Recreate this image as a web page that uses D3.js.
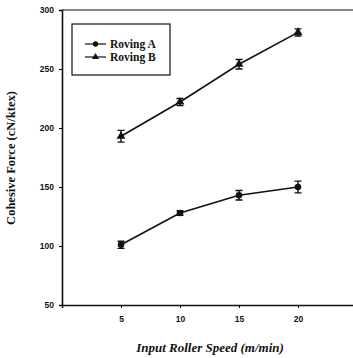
<!DOCTYPE html>
<html>
<head>
<meta charset="utf-8">
<script src="https://cdn.jsdelivr.net/npm/d3@7"></script>
<style>
  body { margin: 0; background: #fff; }
  svg { display: block; }
</style>
</head>
<body>
<div id="chart"></div>
<script>
// values
const speeds = [5, 10, 15, 20];
const rovingA = [101, 128, 143, 150];
const rovingAErr = [3, 2, 4, 5];
const rovingB = [193, 222, 254, 281];
const rovingBErr = [5, 3, 4, 3];
const yTicks = [50, 100, 150, 200, 250, 300];
const xTicks = [5, 10, 15, 20];
const seriesNames = ["Roving A", "Roving B"];

const width = 353, height = 358;
const margin = { top: 10, left: 62, bottom: 53 };

const svg = d3.select("#chart").append("svg")
  .attr("width", width)
  .attr("height", height);

const x = d3.scaleLinear().domain([0, 25]).range([margin.left, margin.left + 295]);
const y = d3.scaleLinear().domain([50, 300]).range([height - margin.bottom, margin.top]);

const serif = "'Liberation Serif', 'DejaVu Serif', serif";
const sans = "'Liberation Sans', Arial, sans-serif";

// Y axis
const yAxis = svg.append("g")
  .attr("transform", "translate(" + margin.left + ",0)")
  .call(d3.axisLeft(y).tickValues(yTicks).tickSize(3).tickPadding(5));
yAxis.select(".domain").attr("stroke", "#111").attr("stroke-width", 1.6);
yAxis.selectAll("text").attr("font-family", sans).attr("font-weight", "bold")
  .attr("font-size", 8.5).attr("fill", "#111");

// X axis
const xAxis = svg.append("g")
  .attr("transform", "translate(0," + y(50) + ")")
  .call(d3.axisBottom(x).tickValues(xTicks).tickSize(3).tickPadding(8));
xAxis.select(".domain").attr("stroke", "#111").attr("stroke-width", 1.4);
xAxis.selectAll("text").attr("font-family", sans).attr("font-weight", "bold")
  .attr("font-size", 8.5).attr("fill", "#111");

// top frame line
svg.append("line")
  .attr("x1", x(0)).attr("x2", width)
  .attr("y1", y(300)).attr("y2", y(300))
  .attr("stroke", "#111").attr("stroke-width", 1.2);

// axis titles
svg.append("text")
  .attr("transform", "translate(15," + 158 + ") rotate(-90)")
  .attr("text-anchor", "middle")
  .attr("font-family", serif).attr("font-weight", "bold")
  .attr("font-size", 12.5).attr("fill", "#111")
  .text("Cohesive Force (cN/ktex)");

svg.append("text")
  .attr("x", 210).attr("y", 352)
  .attr("text-anchor", "middle")
  .attr("font-family", serif).attr("font-weight", "bold").attr("font-style", "italic")
  .attr("font-size", 13).attr("fill", "#111")
  .text("Input Roller Speed (m/min)");

const line = d3.line().x(d => x(d[0])).y(d => y(d[1]));

function drawSeries(vals, errs, shape) {
  const pts = speeds.map((s, i) => [s, vals[i], errs[i]]);
  const g = svg.append("g");
  g.append("path").datum(pts)
    .attr("d", line).attr("fill", "none")
    .attr("stroke", "#111").attr("stroke-width", 1.6);
  // error bars
  g.selectAll(".err").data(pts).enter().append("path")
    .attr("d", d => {
      const cx = x(d[0]), y1 = y(d[1] + d[2]), y2 = y(d[1] - d[2]);
      return "M" + (cx - 3.5) + "," + y1 + "H" + (cx + 3.5) +
        "M" + cx + "," + y1 + "V" + y2 +
        "M" + (cx - 3.5) + "," + y2 + "H" + (cx + 3.5);
    })
    .attr("stroke", "#111").attr("stroke-width", 1.4).attr("fill", "none");
  g.selectAll(".mk").data(pts).enter().append("path")
    .attr("transform", d => "translate(" + x(d[0]) + "," + y(d[1]) + ")")
    .attr("d", d3.symbol().type(shape).size(34))
    .attr("fill", "#111");
}

drawSeries(rovingA, rovingAErr, d3.symbolCircle);
drawSeries(rovingB, rovingBErr, d3.symbolTriangle);

// legend
const lg = svg.append("g");
lg.append("rect")
  .attr("x", 72).attr("y", 24).attr("width", 98).attr("height", 51)
  .attr("fill", "#fff").attr("stroke", "#111").attr("stroke-width", 1.2);
const shapes = [d3.symbolCircle, d3.symbolTriangle];
seriesNames.forEach((name, i) => {
  const ly = 44 + i * 13;
  lg.append("line").attr("x1", 85).attr("x2", 106).attr("y1", ly).attr("y2", ly)
    .attr("stroke", "#111").attr("stroke-width", 1.2);
  lg.append("path").attr("transform", "translate(95.5," + ly + ")")
    .attr("d", d3.symbol().type(shapes[i]).size(22)).attr("fill", "#111");
  lg.append("text").attr("x", 110).attr("y", ly + 4)
    .attr("font-family", serif).attr("font-weight", "bold")
    .attr("font-size", 11.5).attr("fill", "#111")
    .text(name);
});
</script>
</body>
</html>
